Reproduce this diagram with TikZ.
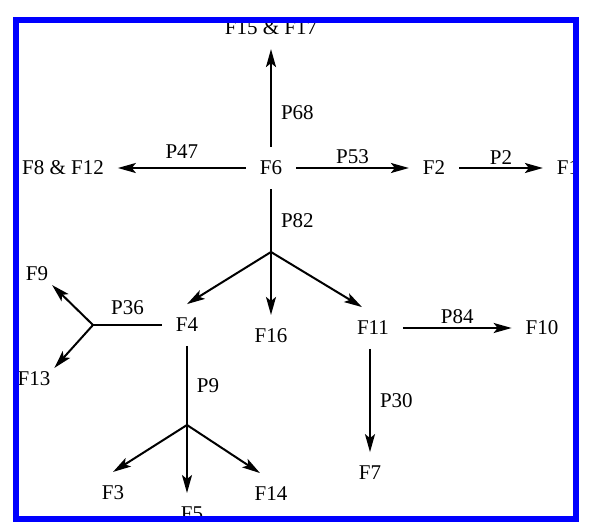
\documentclass[tikz,border=0pt]{standalone}
\usepackage{fontspec}
\setmainfont{Liberation Serif}
\usetikzlibrary{positioning,arrows.meta}

\begin{document}
\begin{tikzpicture}[x=0.5pt, y=-0.5pt, on grid, every node/.style={font=\fontsize{10.5}{12.6}\selectfont, inner sep=7pt, outer sep=0pt}, lab/.style={inner sep=2pt}, flow/.style={line width=1pt, -{Stealth[length=9pt, width=5pt, inset=2pt]}}]

    \useasboundingbox (0,0) rectangle (591,531);

    \begin{scope}
        \clip (13,17) rectangle (579.5,522);

        \node (F6) at (271,168) {F6};
        \node (F1517) [above=70pt of F6] {F15 \& F17};
        \node (F812) [left=104pt of F6] {F8 \& F12};
        \node (F2) [right=81.5pt of F6] {F2};
        \node (F1) [right=67pt of F2] {F1};

        \coordinate [below=42pt of F6] (b6);
        \node (F4) [below left=78.5pt and 42pt of F6] {F4};
        \node (F16) [below=84pt of F6] {F16};
        \node (F11) [below right=80pt and 51pt of F6] {F11};
        \node (F10) [right=84.5pt of F11] {F10};
        \node (F7) [below left=72.5pt and 1.5pt of F11] {F7};

        \coordinate [left=47pt of F4] (b4);
        \node (F9) [above left=25.5pt and 75pt of F4, inner sep=2pt] {F9};
        \node (F13) [below left=27pt and 76.5pt of F4, inner sep=2pt] {F13};

        \coordinate [below=50pt of F4] (b9);
        \node (F3) [below left=84pt and 37pt of F4] {F3};
        \node (F5) [below right=94.5pt and 2.5pt of F4] {F5};
        \node (F14) [below right=84.5pt and 42pt of F4] {F14};

        \draw [flow] (F6) -- node [lab, right=3pt, pos=0.35] {P68} (F1517);
        \draw [flow] (F6) -- node [lab, above=3pt] {P47} (F812);
        \draw [flow] (F6) -- node [lab, above] {P53} (F2);
        \draw [flow] (F2) -- node [lab, above] {P2} (F1);

        \draw [line width=1pt] (F6) -- node [lab, right=3pt] {P82} (b6);
        \draw [flow] (b6) -- (F4.north);
        \draw [flow] (b6) -- (F16);
        \draw [flow] (b6) -- ([xshift=-5.5pt]F11.north);

        \draw [flow] (F11) -- node [lab, above] {P84} (F10);
        \draw [flow] ([xshift=-1.5pt]F11.south) -- node [lab, right=3pt] {P30} (F7);

        \draw [line width=1pt] (F4) -- node [lab, above=3pt] {P36} (b4);
        \draw [flow] (b4) -- (F9.south east);
        \draw [flow] (b4) -- (F13.north east);

        \draw [line width=1pt] (F4) -- node [lab, right=3pt] {P9} (b9);
        \draw [flow] (b9) -- (F3.north);
        \draw [flow] (b9) -- ([xshift=-2.5pt]F5.north);
        \draw [flow] (b9) -- ([xshift=-5.5pt]F14.north);
    \end{scope}

    % \draw [red] (0,0) rectangle (591,531);
    \draw [blue, line width=3pt] (16,20) rectangle (576.5,519);

\end{tikzpicture}
\end{document}
